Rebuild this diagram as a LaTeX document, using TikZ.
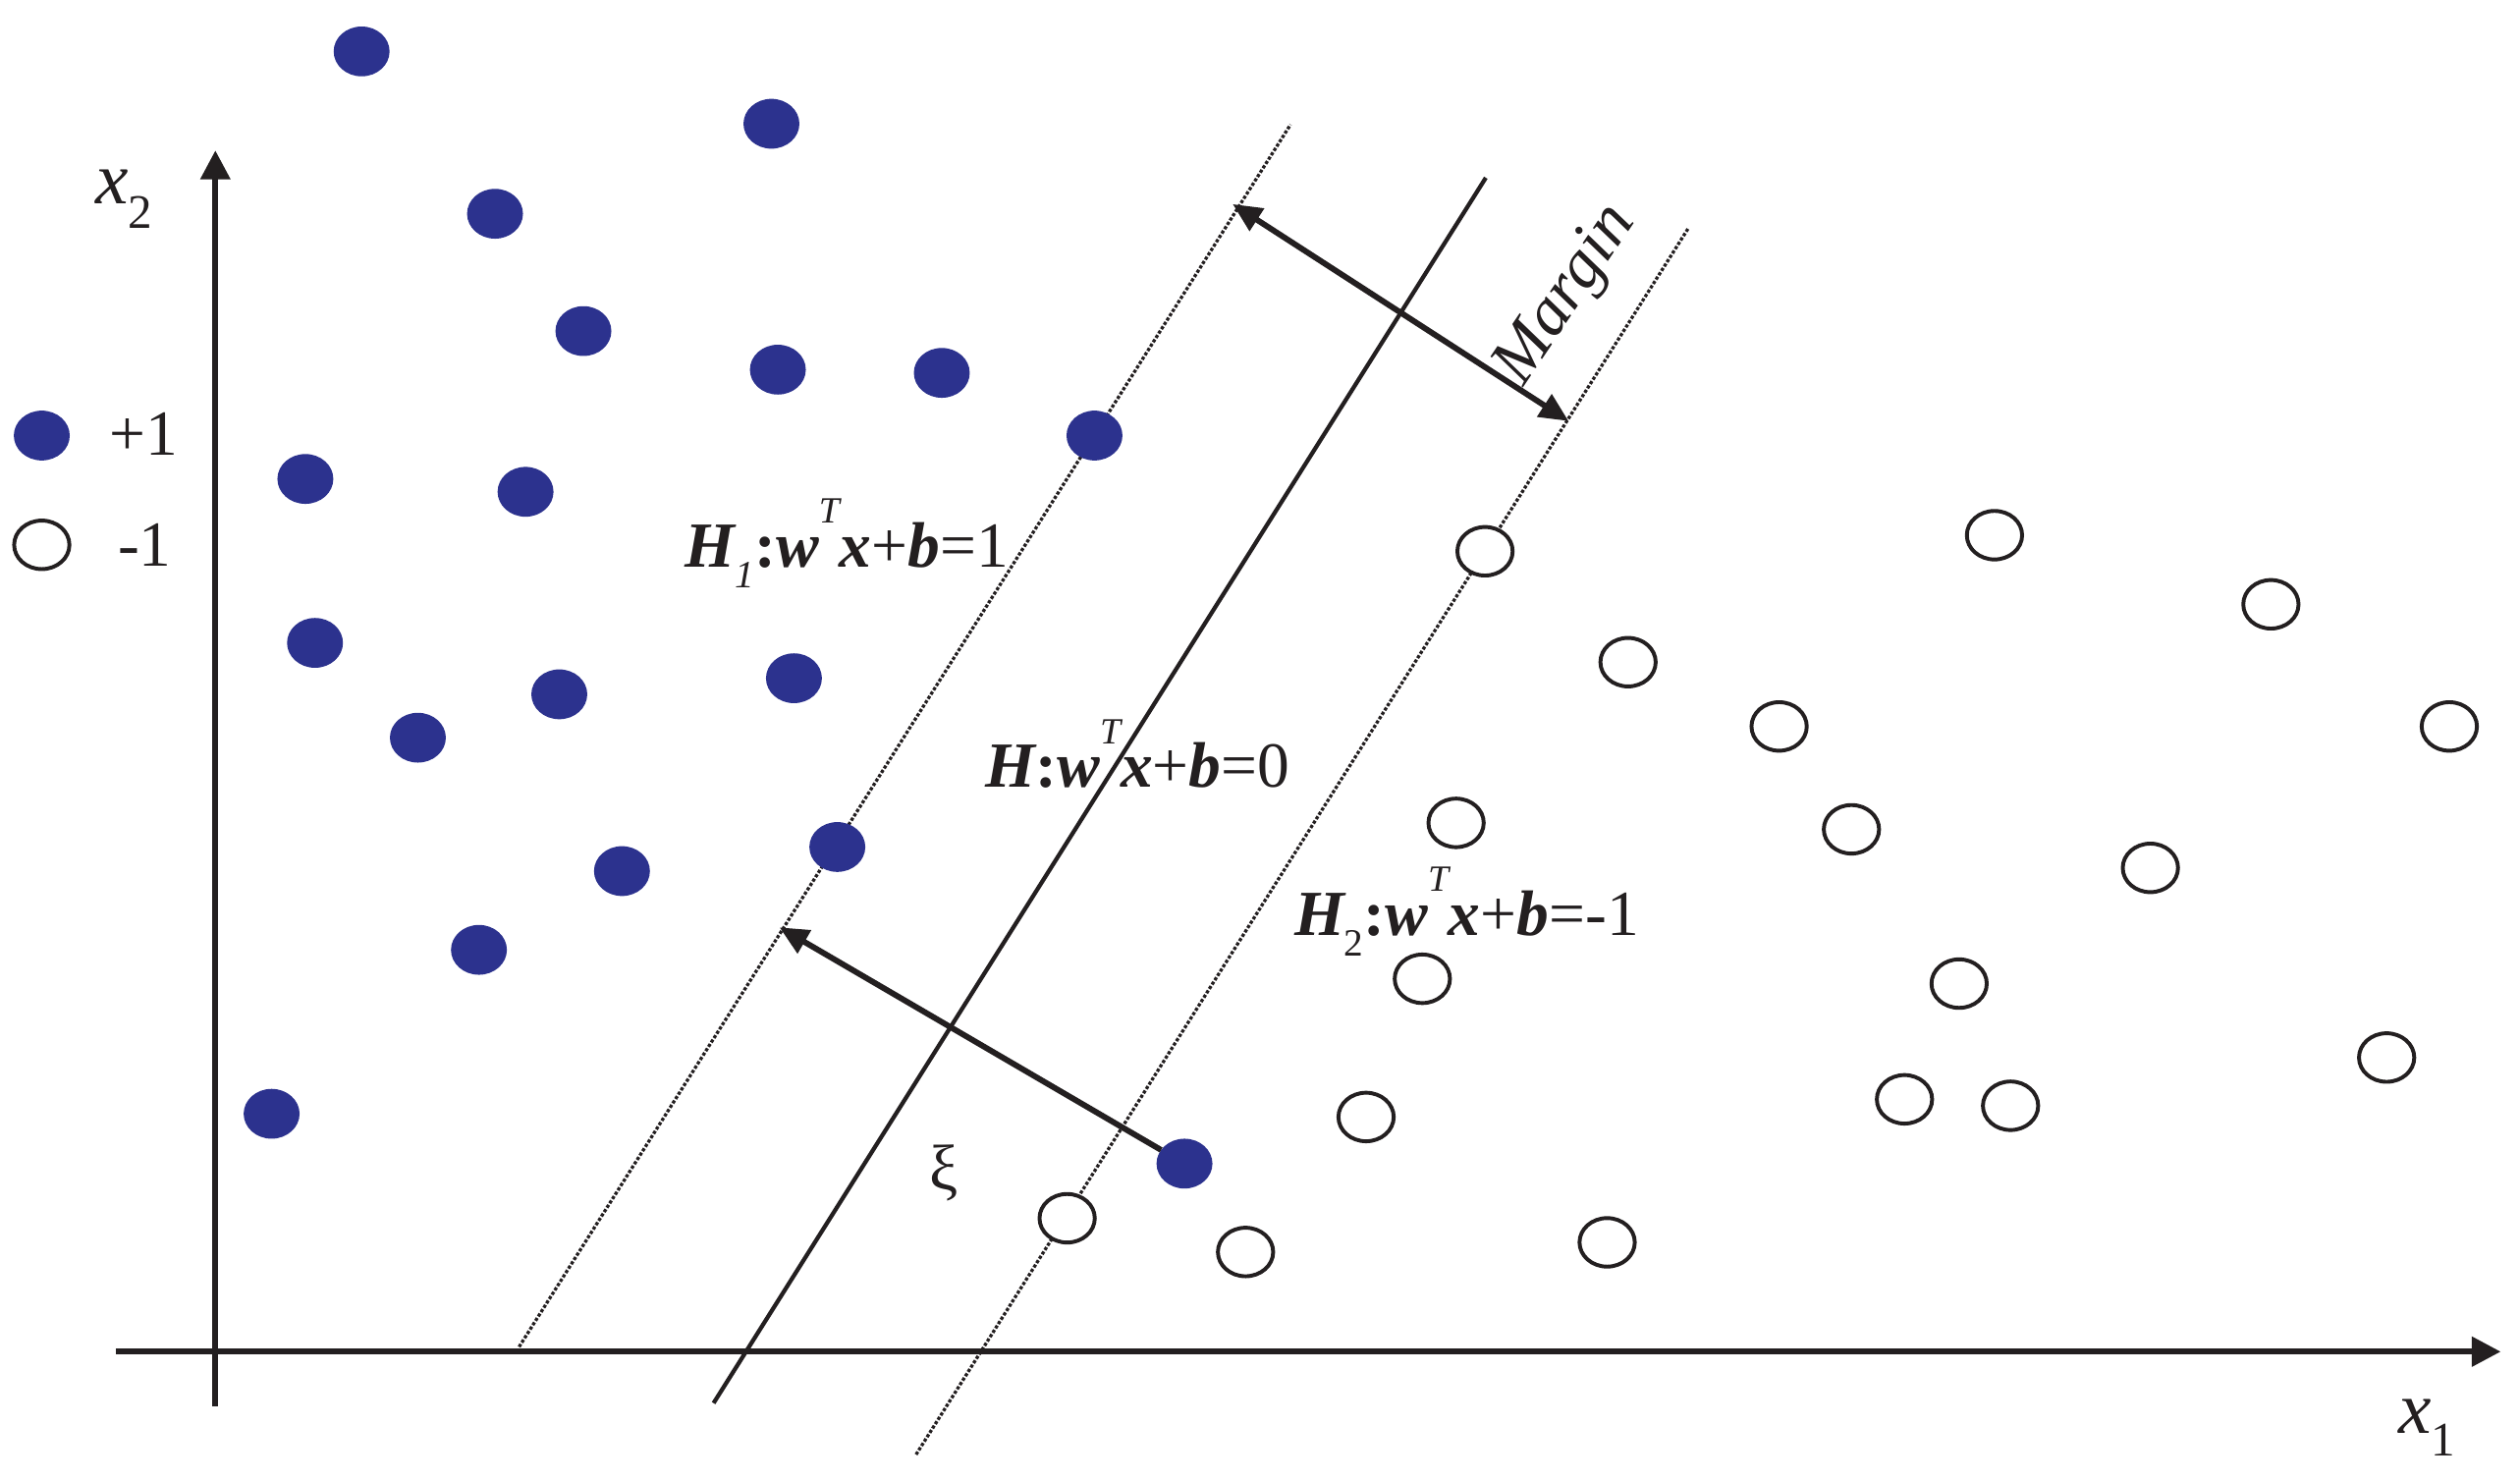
\documentclass[tikz,border=0pt]{standalone}
\usepackage{fontspec}
\setmainfont{Liberation Serif}
\usetikzlibrary{arrows.meta,shapes.geometric}
\definecolor{ink}{RGB}{35,31,32}
\definecolor{dotblue}{RGB}{44,50,142}
\newcommand\svmlab[2]{{\bfseries\itshape H}#1{\bfseries :}{\bfseries\itshape w}\raisebox{13.7pt}{\fontsize{11.5}{12}\selectfont\itshape T}{\bfseries\itshape x}+{\bfseries\itshape b}=#2}
\begin{document}
\begin{tikzpicture}[x=0.5pt,y=-0.5pt,
  posdot/.style={ellipse, fill=dotblue, minimum width=17.4pt, minimum height=15.5pt, inner sep=0pt, outer sep=0pt},
  negdot/.style={ellipse, draw=ink, line width=1.2pt, fill=white, minimum width=17.2pt, minimum height=15.1pt, inner sep=0pt},
  axisline/.style={draw=ink, line width=1.8pt, -{Triangle[length=9pt,width=9pt]}},
  hypline/.style={draw=ink, line width=1.3pt},
  marginline/.style={draw=ink, line width=1pt, dash pattern=on 1pt off 0.6pt},
  vecline/.style={draw=ink, line width=1.8pt},
  lbl/.style={text=ink, font=\fontsize{20}{24}\selectfont, inner sep=0pt, anchor=base west}]
\useasboundingbox (0,0) rectangle (1568,921);
% axes
\coordinate (xs) at (72,841); \coordinate (xe) at (1556,841);
\coordinate (ys) at (134,875); \coordinate (ye) at (134,93.6);
\draw[axisline] (xs) -- (xe);
\draw[axisline] (ys) -- (ye);
% hyperplanes
\coordinate (h1a) at (323,838); \coordinate (h1b) at (803,77.5);
\coordinate (ha) at (444,873); \coordinate (hb) at (924.5,110.6);
\coordinate (h2a) at (570,905); \coordinate (h2b) at (1050.5,142);
\draw[marginline] (h1a) -- (h1b);
\draw[hypline] (ha) -- (hb);
\draw[marginline] (h2a) -- (h2b);
% positive points
\foreach \n/\px/\py in {1/225/32, 2/480/77, 3/308/133, 4/363/206, 5/484/230, 6/586/232, 7/681/271, 8/190/298, 9/327/306, 10/196/400, 11/348/432, 12/494/422, 13/260/459, 14/521/527, 15/387/542, 16/298/591, 17/169/693, 18/737/724}
  \node[posdot] (p\n) at (\px,\py) {};
% negative points
\foreach \n/\px/\py in {1/924/343, 2/1241/333, 3/1413/376, 4/1013/412, 5/1107/452, 6/1524/452, 7/906/512, 8/1152/516, 9/1338/540, 10/885/609, 11/1219/612, 12/1485/658, 13/850/695, 14/1185/684, 15/1251/688, 16/664/758, 17/775/779, 18/1000/773}
  \node[negdot] (n\n) at (\px,\py) {};
% legend
\node[posdot] (lp) at (26,271) {};
\node[negdot] (ln) at (26,339) {};
\node[lbl] (lpt) at (68,283) {+1};
\node[lbl] (lnt) at (73,352.5) {-1};
% margin arrow
\coordinate (m1) at (767,127); \coordinate (m2) at (976,262);
\draw[vecline, {Triangle[length=9pt,width=8pt]}-{Triangle[length=9pt,width=8pt]}] (m1) -- (m2);
% slack arrow
\coordinate (xt) at (485,577);
\draw[vecline, -{Triangle[length=9pt,width=8pt]}] (p18) -- (xt);
% labels
\node[lbl] (x2) at (59,127) {\fontsize{23}{24}\selectfont\itshape x\raisebox{-7.5pt}{\fontsize{15}{15}\selectfont\upshape 2}};
\node[lbl] (x1) at (1492,892) {\fontsize{23}{24}\selectfont\itshape x\raisebox{-7pt}{\fontsize{15}{15}\selectfont\upshape 1}};
\node[lbl] (lh1) at (426,353) {\svmlab{\raisebox{-6.4pt}{\fontsize{12}{12}\selectfont\itshape 1}}{1}};
\node[lbl] (lh) at (613,490) {\svmlab{}{0}};
\node[lbl] (lh2) at (805,582) {\svmlab{\raisebox{-6.4pt}{\fontsize{12}{12}\selectfont 2}}{-1}};
\node[text=ink, font=\fontsize{20}{24}\selectfont, inner sep=0pt] (xi) at (587,730) {ξ};
\node[text=ink, font=\fontsize{21}{24}\selectfont\itshape, inner sep=0pt, rotate=56] (mg) at (975,184) {Margin};
\end{tikzpicture}
\end{document}
